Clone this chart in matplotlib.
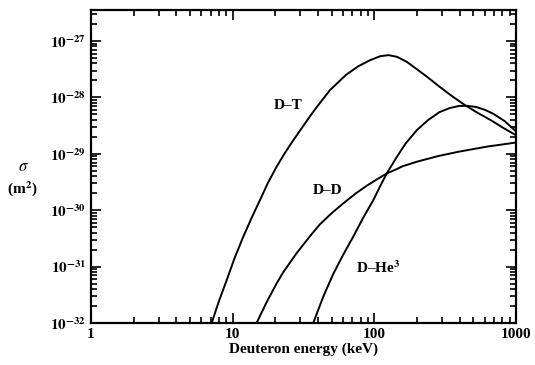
import matplotlib.pyplot as plt
import numpy as np

# values, log10 of energy (keV) and log10 of sigma (m^2)
dt_logE = [0.852, 0.905, 0.958, 1.015, 1.075, 1.135, 1.193, 1.25, 1.31, 1.37, 1.428, 1.50, 1.55, 1.60, 1.687, 1.75, 1.80, 1.885, 1.97, 2.04, 2.10, 2.16, 2.23, 2.30, 2.37, 2.45, 2.55, 2.63, 2.72, 2.82, 2.91, 3.0]
dt_logs = [-32.0, -31.60, -31.24, -30.84, -30.47, -30.13, -29.82, -29.51, -29.23, -28.98, -28.76, -28.50, -28.32, -28.15, -27.87, -27.72, -27.60, -27.45, -27.34, -27.27, -27.25, -27.28, -27.37, -27.50, -27.63, -27.79, -27.98, -28.12, -28.26, -28.40, -28.54, -28.67]

dd_logE = [1.169, 1.24, 1.31, 1.357, 1.452, 1.546, 1.616, 1.70, 1.78, 1.87, 1.95, 2.02, 2.087, 2.15, 2.20, 2.30, 2.45, 2.60, 2.80, 3.0]
dd_logs = [-32.0, -31.63, -31.30, -31.10, -30.76, -30.46, -30.25, -30.05, -29.88, -29.70, -29.56, -29.45, -29.35, -29.28, -29.22, -29.14, -29.04, -28.96, -28.87, -28.80]

dhe_logE = [1.569, 1.64, 1.71, 1.78, 1.851, 1.92, 1.993, 2.04, 2.087, 2.16, 2.22, 2.30, 2.38, 2.46, 2.53, 2.60, 2.66, 2.72, 2.78, 2.84, 2.92, 3.0]
dhe_logs = [-32.0, -31.53, -31.13, -30.79, -30.47, -30.14, -29.82, -29.58, -29.35, -29.05, -28.82, -28.58, -28.40, -28.26, -28.19, -28.15, -28.15, -28.17, -28.22, -28.29, -28.42, -28.60]

x_ticks = [1, 10, 100, 1000]
y_exps = [32, 31, 30, 29, 28, 27]

plt.rcParams['font.family'] = ['Liberation Serif', 'DejaVu Serif']
plt.rcParams['mathtext.fontset'] = 'stix'

fig = plt.figure(figsize=(5.35, 3.65), dpi=100)
ax = fig.add_axes([0.170, 0.115, 0.7945, 0.8576])

for lx, ly in [(dt_logE, dt_logs), (dd_logE, dd_logs), (dhe_logE, dhe_logs)]:
    ax.plot(10 ** np.array(lx), 10.0 ** np.array(ly), color='black', linewidth=1.4)

ax.set_xscale('log')
ax.set_yscale('log')
ax.set_xlim(1, 1000)
ax.set_ylim(1e-32, 3.55e-27)
ax.set_xticks(x_ticks)
ax.set_xticklabels([str(t) for t in x_ticks], fontweight='bold')
ax.set_yticks([10.0 ** -k for k in y_exps])
ax.set_yticklabels([r'$\mathbf{10^{-%d}}$' % k for k in y_exps])
ax.tick_params(which='both', direction='in', top=True, right=True, labelsize=11, width=1.2)
ax.tick_params(which='major', length=7)
ax.tick_params(which='minor', length=4)
for s in ax.spines.values():
    s.set_linewidth(1.6)

ax.set_xlabel('Deuteron energy (keV)', fontsize=11, fontweight='bold', labelpad=1)

# label positions in pixels from the top-left corner of the picture
def px(x, y):
    return x / 535, 1 - y / 365

fig.text(*px(288, 106), 'D–T', fontsize=11, fontweight='bold', ha='center', va='center')
fig.text(*px(328, 190), 'D–D', fontsize=11, fontweight='bold', ha='center', va='center')
fig.text(*px(378, 268), r'D–He$\mathbf{^3}$', fontsize=11, fontweight='bold', ha='center', va='center')
fig.text(*px(23, 167), r'$\sigma$', fontsize=12, ha='center', va='center')
fig.text(*px(22, 189), r'(m$\mathbf{^2}$)', fontsize=11, fontweight='bold', ha='center', va='center')

plt.savefig('out.png', dpi=100)
